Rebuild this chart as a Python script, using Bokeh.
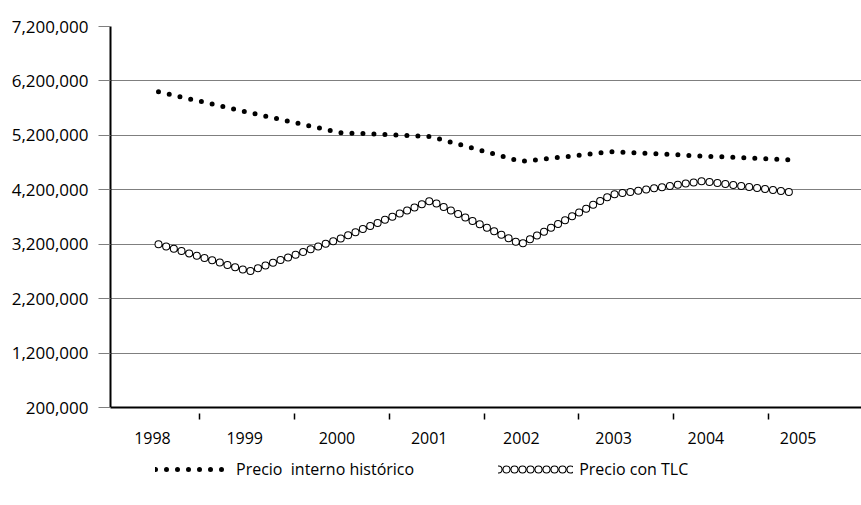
from bokeh.plotting import figure
from bokeh.models import Range1d, FixedTicker, NumeralTickFormatter, Legend, LegendItem
from bokeh.layouts import column
from bokeh.embed import file_html
from bokeh.resources import INLINE

# ---- data ----
years = ["1998", "1999", "2000", "2001", "2002", "2003", "2004", "2005"]
precio_interno = [6000000, 5620000, 5250000, 5180000, 4720000, 4900000, 4820000, 4750000]
precio_tlc = [3200000, 2700000, 3300000, 4000000, 3200000, 4110000, 4360000, 4150000]
y_ticks = [200000, 1200000, 2200000, 3200000, 4200000, 5200000, 6200000, 7200000]
series_names = ["Precio  interno histórico", "Precio con TLC"]

idx = list(range(len(years)))

FONT = "Open Sans"

p = figure(width=861, height=455, output_backend="svg", toolbar_location=None,
           x_range=Range1d(-0.4549, 7.687), y_range=Range1d(200000, 7200000),
           min_border_left=110, min_border_right=0, min_border_top=26, min_border_bottom=48)
p.extra_x_ranges = {"data": Range1d(-0.5296, 7.756)}
p.outline_line_color = None
p.background_fill_color = "white"
p.border_fill_color = "white"

# grid
p.xgrid.visible = False
p.ygrid.ticker = FixedTicker(ticks=y_ticks)
p.ygrid.grid_line_color = "#7f7f7f"
p.ygrid.grid_line_width = 1

# y axis
ya = p.yaxis[0]
ya.ticker = FixedTicker(ticks=y_ticks, minor_ticks=[])
ya.formatter = NumeralTickFormatter(format="0,0")
ya.axis_line_color = "black"
ya.axis_line_width = 2
ya.major_tick_in = 0
ya.major_tick_out = 12
ya.major_tick_line_color = "#7f7f7f"
ya.minor_tick_line_color = None
ya.major_label_standoff = 10
ya.major_label_text_font = FONT
ya.major_label_text_font_size = "17px"
ya.major_label_text_color = "black"

# x axis: labels at category positions, boundary marks as minor ticks
boundaries = [0.5101 + k * 1.02819 for k in range(7)]
xa = p.xaxis[0]
xa.ticker = FixedTicker(ticks=idx, minor_ticks=boundaries)
xa.major_label_overrides = {i: y for i, y in zip(idx, years)}
xa.axis_line_color = "black"
xa.axis_line_width = 2
xa.major_tick_line_color = None
xa.major_tick_in = 0
xa.major_tick_out = 0
xa.minor_tick_in = -6
xa.minor_tick_out = 12
xa.minor_tick_line_color = "black"
xa.minor_tick_line_width = 1.5
xa.major_label_standoff = 12
xa.major_label_text_font = FONT
xa.major_label_text_font_size = "16px"
xa.major_label_text_color = "black"

# series
p.line(idx, precio_interno, x_range_name="data", line_color="black",
       line_width=5, line_dash="0 11", line_cap="round")
p.line(idx, precio_tlc, x_range_name="data", line_color="black",
       line_width=8, line_dash="0 8", line_cap="round")
p.line(idx, precio_tlc, x_range_name="data", line_color="white",
       line_width=6, line_dash="0 8", line_cap="round")

# legend strip below the chart (same series styles; lines lie outside this strip's view)
lg = figure(width=861, height=50, output_backend="svg", toolbar_location=None,
            x_range=Range1d(0, 1), y_range=Range1d(0, 1),
            min_border=0, x_axis_location=None, y_axis_location=None)
lg.outline_line_color = None
lg.grid.visible = False
k1 = lg.line(idx, precio_interno, line_color="black", line_width=5, line_dash="0 11", line_cap="round")
k2a = lg.line(idx, precio_tlc, line_color="black", line_width=8, line_dash="0 8", line_cap="round")
k2b = lg.line(idx, precio_tlc, line_color="white", line_width=6, line_dash="0 8", line_cap="round")
legend = Legend(items=[LegendItem(label=series_names[0], renderers=[k1]),
                       LegendItem(label=series_names[1], renderers=[k2a, k2b])],
                orientation="horizontal", location=(45, 25),
                glyph_width=75, glyph_height=12, label_standoff=6, spacing=84,
                padding=0, margin=0, border_line_color=None, background_fill_alpha=0,
                label_text_font=FONT, label_text_font_size="16px", label_text_color="black")
lg.add_layout(legend, "center")

open("out.html", "w").write(file_html(column(p, lg, spacing=0), INLINE))
